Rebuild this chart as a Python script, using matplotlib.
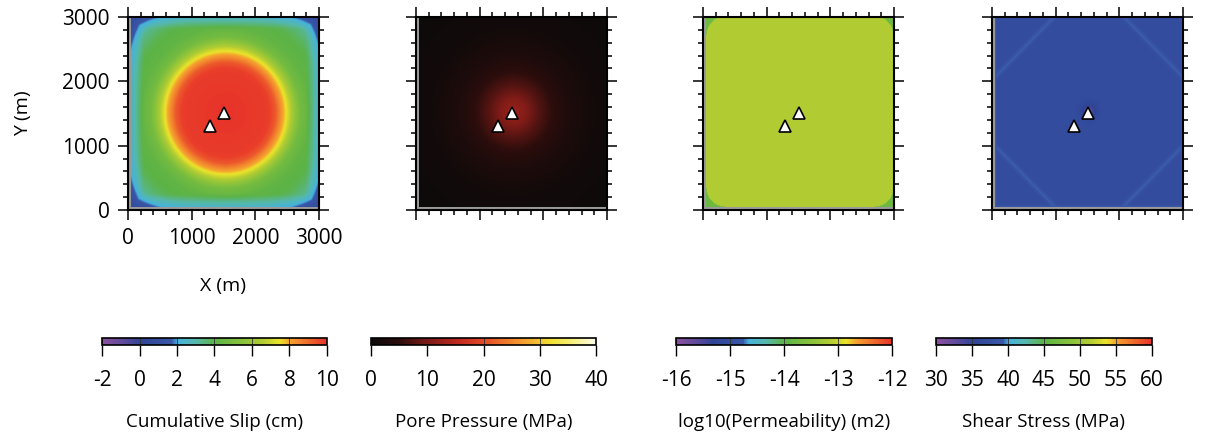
import numpy as np
import matplotlib
matplotlib.use("Agg")
import matplotlib.pyplot as plt
from matplotlib.colors import LinearSegmentedColormap
from matplotlib.ticker import MultipleLocator

plt.rcParams['font.family'] = ['Open Sans', 'DejaVu Sans']
plt.rcParams['axes.unicode_minus'] = False

# --- valores ---
# estações (triângulos), em metros
est_x = [1290, 1500]
est_y = [1310, 1510]

# perfil radial do deslizamento acumulado (cm) a partir do centro da falha
slip_r = [0, 700, 800, 870, 940, 1020, 1100, 1200, 1350, 1600, 1800, 2000, 2200]
slip_v = [10.0, 9.8, 9.3, 8.5, 7.8, 6.9, 5.9, 4.8, 4.2, 3.9, 3.3, 1.8, 0.7]
slip_centro = (1510, 1480)
# atenuação perto das bordas (distância à borda em m -> fator)
borda_d = [0, 50, 120, 200]
borda_f = [0.62, 0.72, 0.86, 1.0]

# perfil radial da pressão de poros (MPa) em torno da injeção
pp_r = [0, 200, 400, 600, 900, 1300, 2000]
pp_v = [12.5, 10.5, 7.6, 5.2, 2.8, 1.1, 0.3]
pp_centro = (1510, 1500)

# permeabilidade: valor de fundo e valor nos cantos (log10 m2)
perm_fundo = -13.15
perm_canto = -13.8

# tensão cisalhante (MPa): fundo, faixas claras, queda na injeção
tau_fundo = 37.0
tau_faixa = 39.4
tau_borda = 39.0
tau_injecao = 33.5

# barras de cores
cb_titulos = ['Cumulative Slip (cm)', 'Pore Pressure (MPa)',
              'log10(Permeability) (m2)', 'Shear Stress (MPa)']
cb_lim = [(-2, 10), (0, 40), (-16, -12), (30, 60)]
cb_ticks = [[-2, 0, 2, 4, 6, 8, 10], [0, 10, 20, 30, 40],
            [-16, -15, -14, -13, -12], [30, 35, 40, 45, 50, 55, 60]]

# paletas
arco_iris = LinearSegmentedColormap.from_list('arco', [
    (0.0, '#8d4f9f'), (0.10, '#5a4a9c'), (0.17, '#2f4496'),
    (0.31, '#3a57a8'), (0.335, '#46b2de'), (0.42, '#56b8a8'),
    (0.50, '#5cb346'), (0.64, '#8ec43a'), (0.72, '#b4cd32'),
    (0.79, '#ece42a'), (0.835, '#f5a22f'), (1.0, '#e8332a')])
quente = LinearSegmentedColormap.from_list('quente', [
    (0.0, '#0d0a0a'), (0.12, '#2a0d0c'), (0.25, '#7c1b17'),
    (0.40, '#c42b21'), (0.50, '#e24a27'), (0.62, '#f0822c'),
    (0.72, '#f3b431'), (0.80, '#f1e032'), (0.90, '#f6f07c'),
    (1.0, '#fdfdea')])
paletas = [arco_iris, quente, arco_iris, arco_iris]

# --- malha ---
n = 240
gx = np.linspace(0, 3000, n)
X, Y = np.meshgrid(gx, gx)
borda = np.minimum(np.minimum(X, 3000 - X), np.minimum(Y, 3000 - Y))

R1 = np.hypot(X - slip_centro[0], Y - slip_centro[1])
campo_slip = np.interp(R1, slip_r, slip_v) * np.interp(borda, borda_d, borda_f)

R2 = np.hypot(X - pp_centro[0], Y - pp_centro[1])
campo_pp = np.interp(R2, pp_r, pp_v)

# cantos arredondados da permeabilidade
raio = 300
ox = np.maximum(np.abs(X - 1500) - (1500 - raio), 0)
oy = np.maximum(np.abs(Y - 1500) - (1500 - raio), 0)
campo_perm = np.where(np.hypot(ox, oy) > raio, perm_canto, perm_fundo)

# tensão: octógono de faixas claras perto dos cantos
dcanto = np.minimum.reduce([X + Y, (3000 - X) + Y, X + (3000 - Y),
                            (3000 - X) + (3000 - Y)])
campo_tau = np.full_like(X, tau_fundo)
faixa = np.exp(-((dcanto - 950) / 55.0) ** 2)
campo_tau = campo_tau + (tau_faixa - tau_fundo) * faixa
campo_tau = np.where(borda < 25, tau_borda, campo_tau)
R4 = np.hypot(X - est_x[1], Y - est_y[1])
campo_tau = campo_tau + (tau_injecao - tau_fundo) * np.exp(-(R4 / 120.0) ** 2)

campos = [campo_slip, campo_pp, campo_perm, campo_tau]

# --- figura ---
fig = plt.figure(figsize=(12.31, 4.37), dpi=100)
esquerdas = [128, 416, 703, 992]
cb_esq = [102, 371, 676, 936]
cb_larg = [225, 225, 216, 216]
W, H = 1231.0, 437.0

for i in range(4):
    ax = fig.add_axes([esquerdas[i] / W, 1 - 210 / H, 191 / W, 193 / H])
    ax.set_facecolor('#9a9a9a')
    ax.imshow(campos[i], origin='lower', extent=[50, 3000, 45, 3000],
              cmap=paletas[i], vmin=cb_lim[i][0], vmax=cb_lim[i][1],
              interpolation='bilinear', aspect='auto')
    ax.plot(est_x, est_y, '^', ms=9, mfc='white', mec='black', mew=1.2)
    ax.set_xlim(0, 3000)
    ax.set_ylim(0, 3000)
    ax.xaxis.set_major_locator(MultipleLocator(1000))
    ax.yaxis.set_major_locator(MultipleLocator(1000))
    ax.xaxis.set_minor_locator(MultipleLocator(200))
    ax.yaxis.set_minor_locator(MultipleLocator(200))
    ax.tick_params(which='both', direction='out', top=True, right=True,
                   width=1.1, color='black')
    ax.tick_params(which='major', length=7)
    ax.tick_params(which='minor', length=3.5)
    for s in ax.spines.values():
        s.set_linewidth(1.5)
    if i == 0:
        ax.tick_params(labelsize=15, pad=6)
        ax.set_xlabel('X (m)', fontsize=14, labelpad=20)
        ax.set_ylabel('Y (m)', fontsize=14, labelpad=22)
    else:
        ax.tick_params(labelbottom=False, labelleft=False)

    # barra de cores
    cax = fig.add_axes([cb_esq[i] / W, 1 - 345 / H, cb_larg[i] / W, 7 / H])
    sm = plt.cm.ScalarMappable(cmap=paletas[i])
    sm.set_clim(*cb_lim[i])
    cb = fig.colorbar(sm, cax=cax, orientation='horizontal')
    cb.set_ticks(cb_ticks[i])
    cb.ax.tick_params(length=8, width=1.0, labelsize=15, pad=10)
    cb.outline.set_linewidth(1.2)
    for t in cb_ticks[i]:
        cax.axvline(t, color='#333333', lw=0.6)
    cb.set_label(cb_titulos[i], fontsize=13.5, labelpad=16)

fig.savefig('out.png', dpi=100, facecolor='white')
